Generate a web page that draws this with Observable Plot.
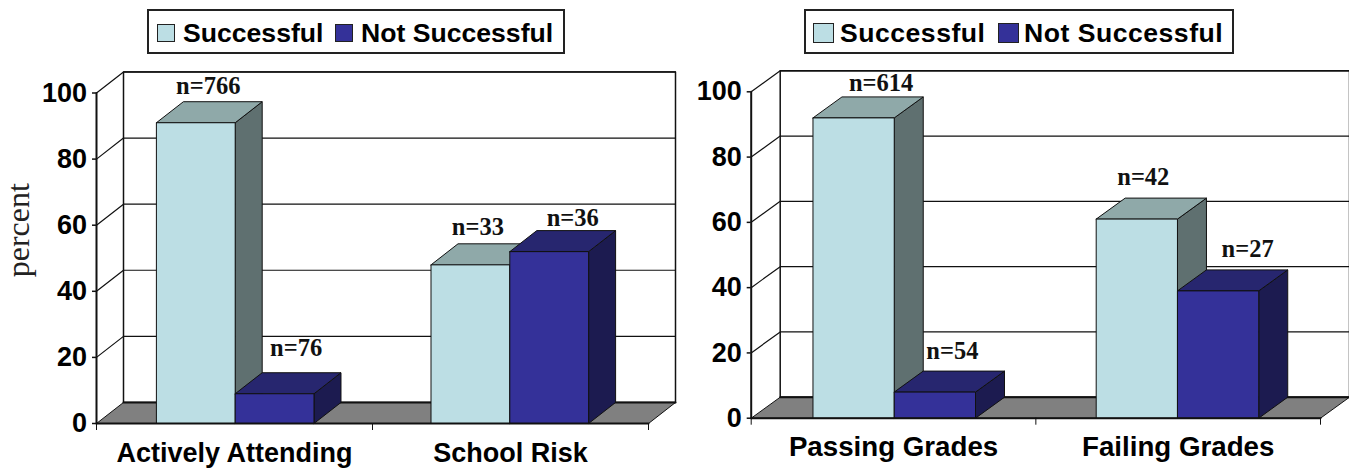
<!DOCTYPE html>
<html>
<head>
<meta charset="utf-8">
<script src="https://cdn.jsdelivr.net/npm/d3@7"></script>
<script src="https://cdn.jsdelivr.net/npm/@observablehq/plot@0.6"></script>
<style>
  html, body { margin: 0; padding: 0; background: #fff; }
  #page { position: relative; width: 1349px; height: 468px; overflow: hidden; }
  .panel { position: absolute; top: 0; }
  .legend {
    position: absolute; box-sizing: border-box; border: 2px solid #222; background: #fff;
    font: bold 26.6px "Liberation Sans", sans-serif; color: #000;
  }
  .legend span { position: absolute; white-space: nowrap; line-height: 1; }
  .legend i { position: absolute; box-sizing: border-box; border: 1.5px solid #222; }
</style>
</head>
<body>
<div id="page"></div>
<script>
// Outcome rates (percent) with group sizes, by attendance and school risk
const attendanceCategories = ["Actively Attending", "School Risk"];
const attendanceSuccessful = [91, 48];
const attendanceNotSuccessful = [9, 52];
const attendanceSuccessfulN = [766, 33];
const attendanceNotSuccessfulN = [76, 36];

// Outcome rates (percent) with group sizes, by grades
const gradeCategories = ["Passing Grades", "Failing Grades"];
const gradeSuccessful = [92, 61];
const gradeNotSuccessful = [8, 39];
const gradeSuccessfulN = [614, 42];
const gradeNotSuccessfulN = [54, 27];

const seriesNames = ["Successful", "Not Successful"];
const yTicks = [0, 20, 40, 60, 80, 100];

const sans = '"Liberation Sans", sans-serif';
const serif = '"Liberation Serif", serif';
const ink = "#111";
const shades = [
  {front: "#bcdee4", top: "#8fa9a9", side: "#5f7070"},
  {front: "#343199", top: "#27266f", side: "#1c1b50"}
];

// Bars sit inside each unit-wide category band
const bandStep = 0.995;
const barStart = 0.217;
const barWidth = 0.2855;

function chart({categories, successful, notSuccessful, successfulN, notSuccessfulN, width, margins, depthX, depthY, nudges, labelSize, labelPadding, axisLabel}) {
  // Oblique projection: z = 0 is the front plane, z = 1 is the back wall
  const pt = (x, y, z = 0) => ({x: x + z * depthX, y: y + z * depthY});
  const face = (corners, fill, strokeWidth = 1) =>
    Plot.line([...corners, corners[0]], {x: "x", y: "y", fill, stroke: ink, strokeWidth});
  const path = (corners, strokeWidth = 1) =>
    Plot.line(corners, {x: "x", y: "y", stroke: ink, strokeWidth});

  const marks = [];

  // Back wall and floor
  marks.push(face([pt(0, 0, 1), pt(2, 0, 1), pt(2, 100, 1), pt(0, 100, 1)], "#fff", 1.5));
  marks.push(face([pt(0, 0), pt(2, 0), pt(2, 0, 1), pt(0, 0, 1)], "#808080", 1));
  marks.push(path([pt(0, 0, 1), pt(2, 0, 1)], 2));

  // Grid lines wrap from the left wall onto the back wall
  for (const t of yTicks.slice(1)) {
    marks.push(path([pt(0, t), pt(0, t, 1), pt(2, t, 1)], 1.2));
  }

  // Bars are painted left to right so nearer faces overlap
  categories.forEach((_, c) => {
    [successful[c], notSuccessful[c]].forEach((v, s) => {
      const x0 = c * bandStep + barStart + s * barWidth;
      const x1 = x0 + barWidth;
      const shade = shades[s];
      marks.push(face([pt(x1, 0), pt(x1, 0, 1), pt(x1, v, 1), pt(x1, v)], shade.side));
      marks.push(face([pt(x0, v), pt(x1, v), pt(x1, v, 1), pt(x0, v, 1)], shade.top));
      marks.push(face([pt(x0, 0), pt(x1, 0), pt(x1, v), pt(x0, v)], shade.front));
    });
  });

  // Front axis lines
  marks.push(path([pt(0, 0), pt(2, 0)], 2));
  marks.push(path([pt(0, 0), pt(0, 100)], 2));

  marks.push(Plot.axisY({
    ticks: yTicks, tickSize: 4, tickPadding: 5.5, label: null,
    fontSize: 27, fontWeight: "bold", fontFamily: sans, fill: "#000", stroke: ink, strokeWidth: 1.5
  }));
  marks.push(Plot.axisX({
    ticks: [0, 1, 2], tickSize: 7, tickFormat: () => "", label: null, stroke: ink, strokeWidth: 1
  }));
  marks.push(Plot.axisX({
    ticks: [0.5, 1.5], tickSize: 0, tickPadding: labelPadding, label: null,
    tickFormat: (d) => categories[Math.floor(d)],
    fontSize: labelSize, fontWeight: "bold", fontFamily: sans, fill: "#000"
  }));

  // Group sizes above each bar
  categories.forEach((_, c) => {
    [[successful[c], successfulN[c]], [notSuccessful[c], notSuccessfulN[c]]].forEach(([v, n], s) => {
      const xc = c * bandStep + barStart + (s + 0.5) * barWidth;
      const [dx, dy] = nudges[c][s];
      marks.push(Plot.text([`n=${n}`], {
        x: xc + depthX / 2, y: v + depthY, text: (d) => d, dx, dy,
        fontFamily: serif, fontWeight: "bold", fontSize: 24.5, fill: "#111"
      }));
    });
  });

  if (axisLabel) {
    marks.push(Plot.text([axisLabel.text], {
      x: 0, y: axisLabel.y, text: (d) => d, dx: axisLabel.dx, rotate: -90,
      fontFamily: serif, fontSize: 32, fill: "#222"
    }));
  }

  return Plot.plot({
    width,
    height: 468,
    marginLeft: margins.left,
    marginRight: margins.right,
    marginTop: margins.top,
    marginBottom: margins.bottom,
    x: {domain: [0, 2]},
    y: {domain: [0, 100]},
    style: {background: "transparent", overflow: "visible"},
    marks
  });
}

function legend({left, top, width, height, swatches, labels}) {
  const box = document.createElement("div");
  box.className = "legend";
  Object.assign(box.style, {left: left + "px", top: top + "px", width: width + "px", height: height + "px"});
  seriesNames.forEach((name, i) => {
    const sw = document.createElement("i");
    Object.assign(sw.style, {
      left: swatches[i].x + "px", top: swatches[i].y + "px",
      width: swatches[i].size[0] + "px", height: swatches[i].size[1] + "px",
      background: shades[i].front
    });
    const tx = document.createElement("span");
    tx.textContent = name;
    Object.assign(tx.style, {left: labels[i].x + "px", top: labels[i].y + "px", letterSpacing: labels[i].spacing + "px"});
    box.append(sw, tx);
  });
  return box;
}

const page = document.getElementById("page");

const leftPanel = document.createElement("div");
leftPanel.className = "panel";
leftPanel.style.left = "0px";
leftPanel.append(chart({
  categories: attendanceCategories,
  successful: attendanceSuccessful,
  notSuccessful: attendanceNotSuccessful,
  successfulN: attendanceSuccessfulN,
  notSuccessfulN: attendanceNotSuccessfulN,
  width: 680,
  margins: {left: 96, right: 32, top: 92.5, bottom: 45},
  depthX: 27 / 276,
  depthY: 21 / 3.3,
  nudges: [[[-1, -16], [8, -25]], [[-6, -17], [10, -12]]],
  labelSize: 27,
  labelPadding: 19,
  axisLabel: {text: "percent", y: 58.5, dx: -78}
}));
page.append(leftPanel);

const rightPanel = document.createElement("div");
rightPanel.className = "panel";
rightPanel.style.left = "680px";
rightPanel.append(chart({
  categories: gradeCategories,
  successful: gradeSuccessful,
  notSuccessful: gradeNotSuccessful,
  successfulN: gradeSuccessfulN,
  notSuccessfulN: gradeNotSuccessfulN,
  width: 669,
  margins: {left: 70.7, right: 29, top: 91.3, bottom: 50.3},
  depthX: 29 / 284.6,
  depthY: 21 / 3.264,
  nudges: [[[13, -14], [3, -20]], [[-8, -21], [15, -21]]],
  labelSize: 27.7,
  labelPadding: 18.5
}));
page.append(rightPanel);

page.append(legend({
  left: 147, top: 9, width: 418, height: 45,
  swatches: [{x: 8, y: 13, size: [18, 18]}, {x: 186, y: 13, size: [18, 18]}],
  labels: [{x: 34, y: 9, spacing: 0}, {x: 212, y: 9, spacing: 0}]
}));
page.append(legend({
  left: 804, top: 9, width: 430, height: 45,
  swatches: [{x: 7, y: 12, size: [21, 20]}, {x: 192, y: 12, size: [21, 20]}],
  labels: [{x: 34, y: 9, spacing: 0.5}, {x: 218, y: 9, spacing: 0.5}]
}));
</script>
</body>
</html>
